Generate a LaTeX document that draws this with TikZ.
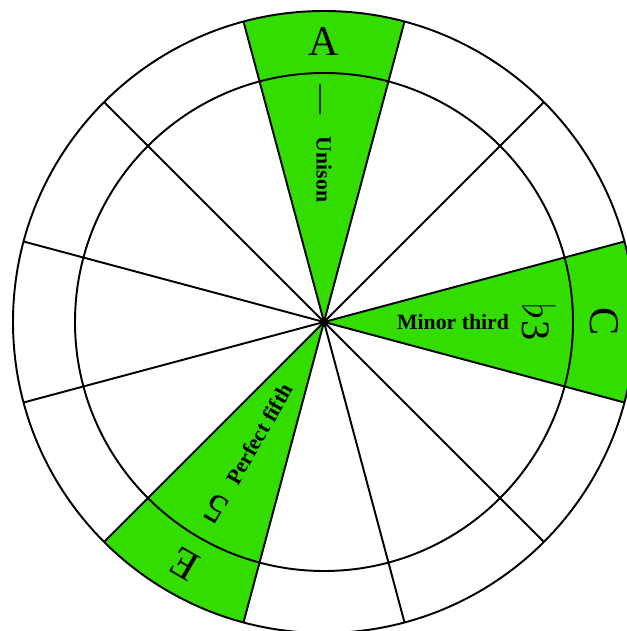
\documentclass[tikz,border=0pt]{standalone}
\usepackage{fontspec}
\setmainfont{Liberation Serif}
\usetikzlibrary{calc}
\definecolor{keygreen}{RGB}{51,221,0}

\begin{document}
\begin{tikzpicture}[line width=1.1pt,
  notename/.style={font=\fontsize{24}{28}\selectfont,inner sep=0pt},
  degree/.style={font=\fontsize{23}{26}\selectfont,inner sep=0pt},
  interval/.style={font=\bfseries\fontsize{12.4}{14}\selectfont,inner sep=0pt}]
  \useasboundingbox (-6.48,-6.18) rectangle (6.06,6.44);
  \clip (-6.48,-6.18) rectangle (6.06,6.44);
  \coordinate (O) at (0,0);
  % highlighted sectors
  \foreach \a in {90,0,240}
    \fill[keygreen] (O) -- (\a-15:6.22) arc[start angle=\a-15,end angle=\a+15,radius=6.22] -- cycle;
  % rings and spokes
  \draw (O) circle (6.22);
  \draw (O) circle (4.98);
  \foreach \k in {0,...,11}
    \draw (O) -- (15+30*\k:6.22);
  % note names
  \node[notename] (noteA) at (90:5.6) {A};
  \node[notename,rotate=-90] (noteC) at (0:5.6) {C};
  \node[notename,rotate=150] (noteE) at (240:5.6) {E};
  % scale degrees
  \node[degree,font=\fontsize{17}{20}\selectfont,rotate=90] (degA) at (90:4.44) {—};
  \node[degree,rotate=-90] (degC) at (0:4.3) {$\flat$3};
  \node[degree,rotate=150] (degE) at (240:4.32) {5};
  % interval names
  \node[interval,rotate=-90,anchor=west] (intA) at (90:3.72) {Unison};
  \node[interval,anchor=east] (intC) at (0:3.72) {Minor third};
  \node[interval,rotate=60,anchor=west] (intE) at (240:3.72) {Perfect fifth};
\end{tikzpicture}
\end{document}
